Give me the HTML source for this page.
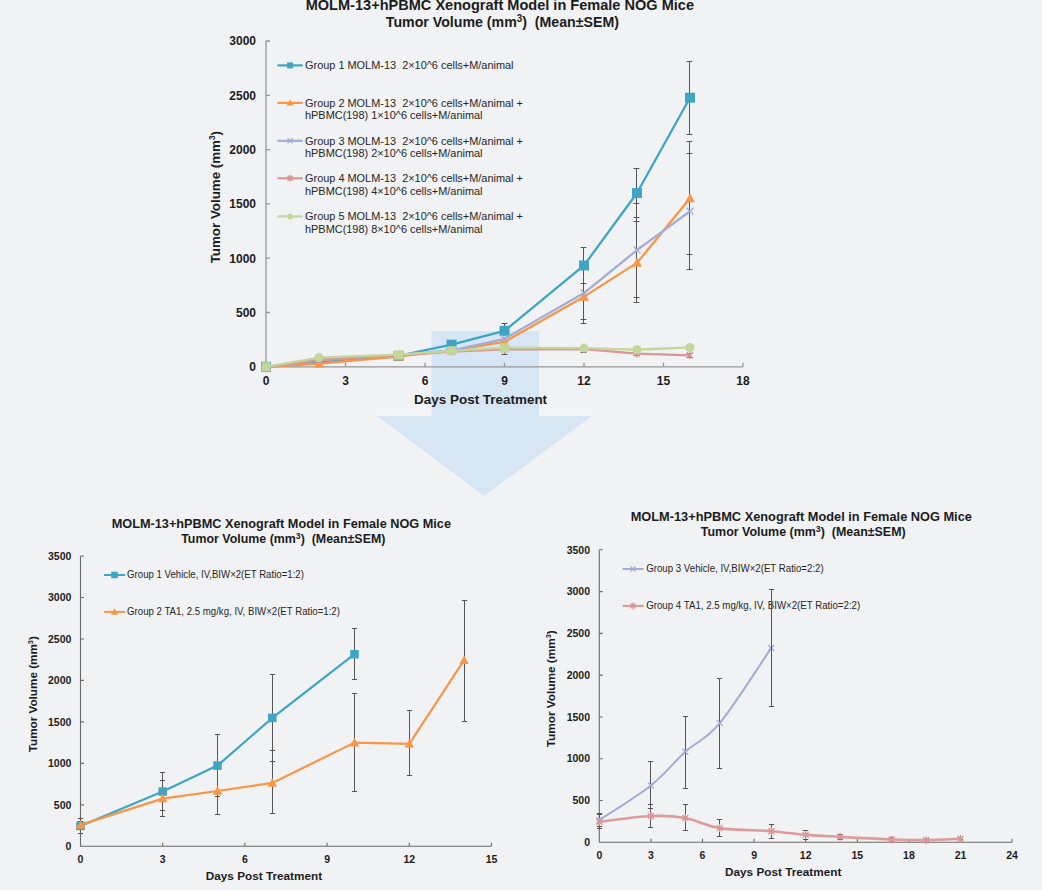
<!DOCTYPE html>
<html><head><meta charset="utf-8"><title>MOLM-13+hPBMC Xenograft Model</title>
<style>html,body{margin:0;padding:0;background:#f1f2f4;}svg{display:block;}</style>
</head><body>
<svg width="1042" height="890" viewBox="0 0 1042 890" font-family="Liberation Sans, Arial, sans-serif" xml:space="preserve" style="white-space:pre">
<rect width="1042" height="890" fill="#f1f2f4"/>
<rect x="376" y="408.5" width="216" height="7.5" fill="#f4f5f7"/>
<path d="M431.5,331H539V416H591.8L484.4,496L377,416H431.5Z" fill="#d6e6f4"/>
<path d="M266,41V366.8H743M266,312.5H270M266,258.2H270M266,203.9H270M266,149.6H270M266,95.3H270M266,41H270M345.5,366.8V362.8M425,366.8V362.8M504.5,366.8V362.8M584,366.8V362.8M663.5,366.8V362.8M743,366.8V362.8" stroke="#979797" stroke-width="1.3" fill="none"/>
<text x="256" y="371.1" font-size="12" font-weight="bold" text-anchor="end" fill="#1c1c1c">0</text>
<text x="256" y="316.8" font-size="12" font-weight="bold" text-anchor="end" fill="#1c1c1c">500</text>
<text x="256" y="262.5" font-size="12" font-weight="bold" text-anchor="end" fill="#1c1c1c">1000</text>
<text x="256" y="208.2" font-size="12" font-weight="bold" text-anchor="end" fill="#1c1c1c">1500</text>
<text x="256" y="153.9" font-size="12" font-weight="bold" text-anchor="end" fill="#1c1c1c">2000</text>
<text x="256" y="99.6" font-size="12" font-weight="bold" text-anchor="end" fill="#1c1c1c">2500</text>
<text x="256" y="45.3" font-size="12" font-weight="bold" text-anchor="end" fill="#1c1c1c">3000</text>
<text x="266" y="385.2" font-size="12" font-weight="bold" text-anchor="middle" fill="#1c1c1c">0</text>
<text x="345.5" y="385.2" font-size="12" font-weight="bold" text-anchor="middle" fill="#1c1c1c">3</text>
<text x="425" y="385.2" font-size="12" font-weight="bold" text-anchor="middle" fill="#1c1c1c">6</text>
<text x="504.5" y="385.2" font-size="12" font-weight="bold" text-anchor="middle" fill="#1c1c1c">9</text>
<text x="584" y="385.2" font-size="12" font-weight="bold" text-anchor="middle" fill="#1c1c1c">12</text>
<text x="663.5" y="385.2" font-size="12" font-weight="bold" text-anchor="middle" fill="#1c1c1c">15</text>
<text x="743" y="385.2" font-size="12" font-weight="bold" text-anchor="middle" fill="#1c1c1c">18</text>
<text x="414.1" y="404.1" font-size="13.4" font-weight="bold" fill="#1c1c1c" textLength="133" lengthAdjust="spacingAndGlyphs">Days Post Treatment</text>
<text transform="translate(220,263.3) rotate(-90)" x="0" y="0" font-size="13.2" font-weight="bold" fill="#1c1c1c" textLength="132.3" lengthAdjust="spacingAndGlyphs">Tumor Volume (mm<tspan font-size="8.18" dy="-4.75">3</tspan><tspan dy="4.75">)</tspan></text>
<text x="305.7" y="9.7" font-size="14.5" font-weight="bold" fill="#1c1c1c" textLength="388.3" lengthAdjust="spacingAndGlyphs">MOLM-13+hPBMC Xenograft Model in Female NOG Mice</text>
<text x="385.8" y="27.2" font-size="14.5" font-weight="bold" fill="#1c1c1c" textLength="233.2" lengthAdjust="spacingAndGlyphs">Tumor Volume (mm<tspan font-size="10.15" dy="-4.93">3</tspan><tspan dy="4.93">) &#160;(Mean±SEM)</tspan></text>
<path d="M504.5,323.5V334.5M501.6,323.5H507.4M501.6,334.5H507.4" stroke="#555555" stroke-width="1" fill="none"/>
<path d="M583.5,247.5V283.5M580.6,247.5H586.4M580.6,283.5H586.4" stroke="#555555" stroke-width="1" fill="none"/>
<path d="M636.5,168.5V217.5M633.6,168.5H639.4M633.6,217.5H639.4" stroke="#555555" stroke-width="1" fill="none"/>
<path d="M689.5,61.5V134.5M686.6,61.5H692.4M686.6,134.5H692.4" stroke="#555555" stroke-width="1" fill="none"/>
<path d="M583.5,269.5V323.5M580.6,269.5H586.4M580.6,323.5H586.4" stroke="#555555" stroke-width="1" fill="none"/>
<path d="M636.5,221.5V302.5M633.6,221.5H639.4M633.6,302.5H639.4" stroke="#555555" stroke-width="1" fill="none"/>
<path d="M689.5,141.5V254.5M686.6,141.5H692.4M686.6,254.5H692.4" stroke="#555555" stroke-width="1" fill="none"/>
<path d="M583.5,266.5V319.5M580.6,266.5H586.4M580.6,319.5H586.4" stroke="#555555" stroke-width="1" fill="none"/>
<path d="M636.5,203.5V297.5M633.6,203.5H639.4M633.6,297.5H639.4" stroke="#555555" stroke-width="1" fill="none"/>
<path d="M689.5,153.5V269.5M686.6,153.5H692.4M686.6,269.5H692.4" stroke="#555555" stroke-width="1" fill="none"/>
<path d="M504.5,346.5V354.5M501.6,346.5H507.4M501.6,354.5H507.4" stroke="#555555" stroke-width="1" fill="none"/>
<path d="M583.5,346.5V352.5M580.6,346.5H586.4M580.6,352.5H586.4" stroke="#555555" stroke-width="1" fill="none"/>
<path d="M636.5,351.5V355.5M633.6,351.5H639.4M633.6,355.5H639.4" stroke="#555555" stroke-width="1" fill="none"/>
<path d="M689.5,353.5V357.5M686.6,353.5H692.4M686.6,357.5H692.4" stroke="#555555" stroke-width="1" fill="none"/>
<path d="M504.5,345.5V351.5M501.6,345.5H507.4M501.6,351.5H507.4" stroke="#555555" stroke-width="1" fill="none"/>
<path d="M583.5,346.5V350.5M580.6,346.5H586.4M580.6,350.5H586.4" stroke="#555555" stroke-width="1" fill="none"/>
<path d="M636.5,347.5V351.5M633.6,347.5H639.4M633.6,351.5H639.4" stroke="#555555" stroke-width="1" fill="none"/>
<path d="M689.5,345.5V349.5M686.6,345.5H692.4M686.6,349.5H692.4" stroke="#555555" stroke-width="1" fill="none"/>
<path d="M266,366.8L398.5,355.94L451.5,344.65L504.5,330.85L584,265.48L637,193.04L690,97.69" stroke="#3ea5c3" stroke-width="2.3" fill="none" stroke-linejoin="round" stroke-linecap="round"/>
<rect x="261" y="361.8" width="10" height="10" fill="#3ea5c3"/>
<rect x="393.5" y="350.94" width="10" height="10" fill="#3ea5c3"/>
<rect x="446.5" y="339.65" width="10" height="10" fill="#3ea5c3"/>
<rect x="499.5" y="325.85" width="10" height="10" fill="#3ea5c3"/>
<rect x="579" y="260.48" width="10" height="10" fill="#3ea5c3"/>
<rect x="632" y="188.04" width="10" height="10" fill="#3ea5c3"/>
<rect x="685" y="92.69" width="10" height="10" fill="#3ea5c3"/>
<path d="M266,366.8L319,363.54L398.5,356.48L451.5,350.51L504.5,341.93L584,296.64L637,262.87L690,198.25" stroke="#f79646" stroke-width="2.3" fill="none" stroke-linejoin="round" stroke-linecap="round"/>
<path d="M266,361.8L271,370.8L261,370.8Z" fill="#f79646"/>
<path d="M319,358.54L324,367.54L314,367.54Z" fill="#f79646"/>
<path d="M398.5,351.48L403.5,360.48L393.5,360.48Z" fill="#f79646"/>
<path d="M451.5,345.51L456.5,354.51L446.5,354.51Z" fill="#f79646"/>
<path d="M504.5,336.93L509.5,345.93L499.5,345.93Z" fill="#f79646"/>
<path d="M584,291.64L589,300.64L579,300.64Z" fill="#f79646"/>
<path d="M637,257.87L642,266.87L632,266.87Z" fill="#f79646"/>
<path d="M690,193.25L695,202.25L685,202.25Z" fill="#f79646"/>
<path d="M266,366.8L319,360.28L398.5,354.85L451.5,350.51L504.5,338.78L584,293.06L637,250.06L690,211.28" stroke="#a3acd6" stroke-width="2.3" fill="none" stroke-linejoin="round" stroke-linecap="round"/>
<path d="M262.5,363.3L269.5,370.3M269.5,363.3L262.5,370.3" stroke="#a3acd6" stroke-width="1.3" fill="none"/>
<path d="M315.5,356.78L322.5,363.78M322.5,356.78L315.5,363.78" stroke="#a3acd6" stroke-width="1.3" fill="none"/>
<path d="M395,351.35L402,358.35M402,351.35L395,358.35" stroke="#a3acd6" stroke-width="1.3" fill="none"/>
<path d="M448,347.01L455,354.01M455,347.01L448,354.01" stroke="#a3acd6" stroke-width="1.3" fill="none"/>
<path d="M501,335.28L508,342.28M508,335.28L501,342.28" stroke="#a3acd6" stroke-width="1.3" fill="none"/>
<path d="M580.5,289.56L587.5,296.56M587.5,289.56L580.5,296.56" stroke="#a3acd6" stroke-width="1.3" fill="none"/>
<path d="M633.5,246.56L640.5,253.56M640.5,246.56L633.5,253.56" stroke="#a3acd6" stroke-width="1.3" fill="none"/>
<path d="M686.5,207.78L693.5,214.78M693.5,207.78L686.5,214.78" stroke="#a3acd6" stroke-width="1.3" fill="none"/>
<path d="M266,366.8L319,359.74L398.5,355.4L451.5,351.6L504.5,349.42L584,349.1L637,353.66L690,355.29" stroke="#d99694" stroke-width="2.3" fill="none" stroke-linejoin="round" stroke-linecap="round"/>
<path d="M263,363.8L269,369.8M269,363.8L263,369.8M266,362.8L266,370.8" stroke="#d99694" stroke-width="1.3" fill="none"/>
<path d="M316,356.74L322,362.74M322,356.74L316,362.74M319,355.74L319,363.74" stroke="#d99694" stroke-width="1.3" fill="none"/>
<path d="M395.5,352.4L401.5,358.4M401.5,352.4L395.5,358.4M398.5,351.4L398.5,359.4" stroke="#d99694" stroke-width="1.3" fill="none"/>
<path d="M448.5,348.6L454.5,354.6M454.5,348.6L448.5,354.6M451.5,347.6L451.5,355.6" stroke="#d99694" stroke-width="1.3" fill="none"/>
<path d="M501.5,346.42L507.5,352.42M507.5,346.42L501.5,352.42M504.5,345.42L504.5,353.42" stroke="#d99694" stroke-width="1.3" fill="none"/>
<path d="M581,346.1L587,352.1M587,346.1L581,352.1M584,345.1L584,353.1" stroke="#d99694" stroke-width="1.3" fill="none"/>
<path d="M634,350.66L640,356.66M640,350.66L634,356.66M637,349.66L637,357.66" stroke="#d99694" stroke-width="1.3" fill="none"/>
<path d="M687,352.29L693,358.29M693,352.29L687,358.29M690,351.29L690,359.29" stroke="#d99694" stroke-width="1.3" fill="none"/>
<path d="M266,366.8L319,357.57L398.5,354.64L451.5,350.84L504.5,347.69L584,348.12L637,349.75L690,347.47" stroke="#c3d69b" stroke-width="2.3" fill="none" stroke-linejoin="round" stroke-linecap="round"/>
<rect x="261.5" y="362.3" width="9" height="9" rx="1.2" fill="#c3d69b"/>
<circle cx="319" cy="357.57" r="4.5" fill="#c3d69b"/>
<rect x="394" y="350.14" width="9" height="9" rx="1.2" fill="#c3d69b"/>
<rect x="447" y="346.34" width="9" height="9" rx="1.2" fill="#c3d69b"/>
<rect x="500" y="343.19" width="9" height="9" rx="1.2" fill="#c3d69b"/>
<circle cx="584" cy="348.12" r="4.5" fill="#c3d69b"/>
<circle cx="637" cy="349.75" r="4.5" fill="#c3d69b"/>
<circle cx="690" cy="347.47" r="4.5" fill="#c3d69b"/>
<path d="M277.5,65.4H302.7" stroke="#3ea5c3" stroke-width="2.2"/>
<rect x="287.1" y="62.4" width="6" height="6" fill="#3ea5c3"/>
<text x="305" y="69.2" font-size="11.5" fill="#262626" textLength="208.51" lengthAdjust="spacingAndGlyphs">Group 1 MOLM-13 &#160;2×10^6 cells+M/animal</text>
<path d="M277.5,102.9H302.7" stroke="#f79646" stroke-width="2.2"/>
<path d="M290.1,99.4L293.6,105.4L286.6,105.4Z" fill="#f79646"/>
<text x="305" y="106.7" font-size="11.5" fill="#262626" textLength="217.92" lengthAdjust="spacingAndGlyphs">Group 2 MOLM-13 &#160;2×10^6 cells+M/animal +</text>
<text x="305" y="119.1" font-size="11.5" fill="#262626" textLength="177.55" lengthAdjust="spacingAndGlyphs">hPBMC(198) 1×10^6 cells+M/animal</text>
<path d="M277.5,140.8H302.7" stroke="#a3acd6" stroke-width="2.2"/>
<path d="M287.6,138.3L292.6,143.3M292.6,138.3L287.6,143.3" stroke="#a3acd6" stroke-width="1.3" fill="none"/>
<text x="305" y="144.6" font-size="11.5" fill="#262626" textLength="217.92" lengthAdjust="spacingAndGlyphs">Group 3 MOLM-13 &#160;2×10^6 cells+M/animal +</text>
<text x="305" y="157" font-size="11.5" fill="#262626" textLength="177.55" lengthAdjust="spacingAndGlyphs">hPBMC(198) 2×10^6 cells+M/animal</text>
<path d="M277.5,178.3H302.7" stroke="#d99694" stroke-width="2.2"/>
<path d="M287.6,175.8L292.6,180.8M292.6,175.8L287.6,180.8M290.1,174.8L290.1,181.8" stroke="#d99694" stroke-width="1.3" fill="none"/>
<text x="305" y="182.1" font-size="11.5" fill="#262626" textLength="217.92" lengthAdjust="spacingAndGlyphs">Group 4 MOLM-13 &#160;2×10^6 cells+M/animal +</text>
<text x="305" y="194.5" font-size="11.5" fill="#262626" textLength="177.55" lengthAdjust="spacingAndGlyphs">hPBMC(198) 4×10^6 cells+M/animal</text>
<path d="M277.5,216.4H302.7" stroke="#c3d69b" stroke-width="2.2"/>
<circle cx="290.1" cy="216.4" r="3" fill="#c3d69b"/>
<text x="305" y="220.2" font-size="11.5" fill="#262626" textLength="217.92" lengthAdjust="spacingAndGlyphs">Group 5 MOLM-13 &#160;2×10^6 cells+M/animal +</text>
<text x="305" y="232.6" font-size="11.5" fill="#262626" textLength="177.55" lengthAdjust="spacingAndGlyphs">hPBMC(198) 8×10^6 cells+M/animal</text>
<path d="M80.5,556.01V846.3H491.5M80.5,804.83H84M80.5,763.36H84M80.5,721.89H84M80.5,680.42H84M80.5,638.95H84M80.5,597.48H84M80.5,556.01H84M162.7,846.3V842.8M244.9,846.3V842.8M327.1,846.3V842.8M409.3,846.3V842.8M491.5,846.3V842.8" stroke="#6a6a6a" stroke-width="1.1" fill="none"/>
<text x="71.4" y="850.05" font-size="10.5" font-weight="bold" text-anchor="end" fill="#1c1c1c">0</text>
<text x="71.4" y="808.58" font-size="10.5" font-weight="bold" text-anchor="end" fill="#1c1c1c">500</text>
<text x="71.4" y="767.11" font-size="10.5" font-weight="bold" text-anchor="end" fill="#1c1c1c">1000</text>
<text x="71.4" y="725.64" font-size="10.5" font-weight="bold" text-anchor="end" fill="#1c1c1c">1500</text>
<text x="71.4" y="684.17" font-size="10.5" font-weight="bold" text-anchor="end" fill="#1c1c1c">2000</text>
<text x="71.4" y="642.7" font-size="10.5" font-weight="bold" text-anchor="end" fill="#1c1c1c">2500</text>
<text x="71.4" y="601.23" font-size="10.5" font-weight="bold" text-anchor="end" fill="#1c1c1c">3000</text>
<text x="71.4" y="559.76" font-size="10.5" font-weight="bold" text-anchor="end" fill="#1c1c1c">3500</text>
<text x="80.5" y="862.7" font-size="10.5" font-weight="bold" text-anchor="middle" fill="#1c1c1c">0</text>
<text x="162.7" y="862.7" font-size="10.5" font-weight="bold" text-anchor="middle" fill="#1c1c1c">3</text>
<text x="244.9" y="862.7" font-size="10.5" font-weight="bold" text-anchor="middle" fill="#1c1c1c">6</text>
<text x="327.1" y="862.7" font-size="10.5" font-weight="bold" text-anchor="middle" fill="#1c1c1c">9</text>
<text x="409.3" y="862.7" font-size="10.5" font-weight="bold" text-anchor="middle" fill="#1c1c1c">12</text>
<text x="491.5" y="862.7" font-size="10.5" font-weight="bold" text-anchor="middle" fill="#1c1c1c">15</text>
<text x="205.8" y="879.8" font-size="11.8" font-weight="bold" fill="#1c1c1c" textLength="116.3" lengthAdjust="spacingAndGlyphs">Days Post Treatment</text>
<text transform="translate(37.3,752.3) rotate(-90)" x="0" y="0" font-size="11" font-weight="bold" fill="#1c1c1c" textLength="116.1" lengthAdjust="spacingAndGlyphs">Tumor Volume (mm<tspan font-size="6.82" dy="-3.96">3</tspan><tspan dy="3.96">)</tspan></text>
<text x="111.7" y="528.1" font-size="12.2" font-weight="bold" fill="#1c1c1c" textLength="339.3" lengthAdjust="spacingAndGlyphs">MOLM-13+hPBMC Xenograft Model in Female NOG Mice</text>
<text x="181.2" y="542.8" font-size="12.2" font-weight="bold" fill="#1c1c1c" textLength="204.2" lengthAdjust="spacingAndGlyphs">Tumor Volume (mm<tspan font-size="8.54" dy="-4.15">3</tspan><tspan dy="4.15">) &#160;(Mean±SEM)</tspan></text>
<path d="M80.5,818.5V833.5M77.9,818.5H83.1M77.9,833.5H83.1" stroke="#555555" stroke-width="1" fill="none"/>
<path d="M162.5,772.5V810.5M159.9,772.5H165.1M159.9,810.5H165.1" stroke="#555555" stroke-width="1" fill="none"/>
<path d="M217.5,734.5V796.5M214.9,734.5H220.1M214.9,796.5H220.1" stroke="#555555" stroke-width="1" fill="none"/>
<path d="M272.5,674.5V761.5M269.9,674.5H275.1M269.9,761.5H275.1" stroke="#555555" stroke-width="1" fill="none"/>
<path d="M354.5,628.5V679.5M351.9,628.5H357.1M351.9,679.5H357.1" stroke="#555555" stroke-width="1" fill="none"/>
<path d="M80.5,821.5V828.5M77.9,821.5H83.1M77.9,828.5H83.1" stroke="#555555" stroke-width="1" fill="none"/>
<path d="M162.5,780.5V816.5M159.9,780.5H165.1M159.9,816.5H165.1" stroke="#555555" stroke-width="1" fill="none"/>
<path d="M217.5,767.5V814.5M214.9,767.5H220.1M214.9,814.5H220.1" stroke="#555555" stroke-width="1" fill="none"/>
<path d="M272.5,750.5V813.5M269.9,750.5H275.1M269.9,813.5H275.1" stroke="#555555" stroke-width="1" fill="none"/>
<path d="M354.5,693.5V791.5M351.9,693.5H357.1M351.9,791.5H357.1" stroke="#555555" stroke-width="1" fill="none"/>
<path d="M409.5,710.5V775.5M406.9,710.5H412.1M406.9,775.5H412.1" stroke="#555555" stroke-width="1" fill="none"/>
<path d="M464.5,600.5V721.5M461.9,600.5H467.1M461.9,721.5H467.1" stroke="#555555" stroke-width="1" fill="none"/>
<path d="M80.5,825.9L162.7,791.56L217.5,765.6L272.3,717.91L354.5,654.21" stroke="#3ea5c3" stroke-width="2.2" fill="none" stroke-linejoin="round" stroke-linecap="round"/>
<rect x="76.25" y="821.65" width="8.5" height="8.5" fill="#3ea5c3"/>
<rect x="158.45" y="787.31" width="8.5" height="8.5" fill="#3ea5c3"/>
<rect x="213.25" y="761.35" width="8.5" height="8.5" fill="#3ea5c3"/>
<rect x="268.05" y="713.66" width="8.5" height="8.5" fill="#3ea5c3"/>
<rect x="350.25" y="649.96" width="8.5" height="8.5" fill="#3ea5c3"/>
<path d="M80.5,824.9L162.7,798.61L217.5,790.98L272.3,782.93L354.5,742.62L409.3,743.87L464.1,660.18" stroke="#f79646" stroke-width="2.2" fill="none" stroke-linejoin="round" stroke-linecap="round"/>
<path d="M80.5,820.15L85.25,828.65L75.75,828.65Z" fill="#f79646"/>
<path d="M162.7,793.86L167.45,802.36L157.95,802.36Z" fill="#f79646"/>
<path d="M217.5,786.23L222.25,794.73L212.75,794.73Z" fill="#f79646"/>
<path d="M272.3,778.18L277.05,786.68L267.55,786.68Z" fill="#f79646"/>
<path d="M354.5,737.88L359.25,746.38L349.75,746.38Z" fill="#f79646"/>
<path d="M409.3,739.12L414.05,747.62L404.55,747.62Z" fill="#f79646"/>
<path d="M464.1,655.43L468.85,663.93L459.35,663.93Z" fill="#f79646"/>
<path d="M104,575H125" stroke="#3ea5c3" stroke-width="2"/>
<rect x="111.25" y="571.75" width="6.5" height="6.5" fill="#3ea5c3"/>
<path d="M104,611.9H125" stroke="#f79646" stroke-width="2"/>
<path d="M114.5,608.15L118.25,614.65L110.75,614.65Z" fill="#f79646"/>
<text x="127.1" y="578.4" font-size="10.3" fill="#262626" textLength="176.8" lengthAdjust="spacingAndGlyphs">Group 1 Vehicle, IV,BIW×2(ET Ratio=1:2)</text>
<text x="127.1" y="615.3" font-size="10.3" fill="#262626" textLength="212.8" lengthAdjust="spacingAndGlyphs">Group 2 TA1, 2.5 mg/kg, IV, BIW×2(ET Ratio=1:2)</text>
<path d="M599.3,549.8V842.3H1012.1M599.3,800.51H602.8M599.3,758.73H602.8M599.3,716.94H602.8M599.3,675.16H602.8M599.3,633.38H602.8M599.3,591.59H602.8M599.3,549.8H602.8M650.9,842.3V838.8M702.5,842.3V838.8M754.1,842.3V838.8M805.7,842.3V838.8M857.3,842.3V838.8M908.9,842.3V838.8M960.5,842.3V838.8M1012.1,842.3V838.8" stroke="#6a6a6a" stroke-width="1.1" fill="none"/>
<text x="590" y="846.05" font-size="10.5" font-weight="bold" text-anchor="end" fill="#1c1c1c">0</text>
<text x="590" y="804.26" font-size="10.5" font-weight="bold" text-anchor="end" fill="#1c1c1c">500</text>
<text x="590" y="762.48" font-size="10.5" font-weight="bold" text-anchor="end" fill="#1c1c1c">1000</text>
<text x="590" y="720.69" font-size="10.5" font-weight="bold" text-anchor="end" fill="#1c1c1c">1500</text>
<text x="590" y="678.91" font-size="10.5" font-weight="bold" text-anchor="end" fill="#1c1c1c">2000</text>
<text x="590" y="637.12" font-size="10.5" font-weight="bold" text-anchor="end" fill="#1c1c1c">2500</text>
<text x="590" y="595.34" font-size="10.5" font-weight="bold" text-anchor="end" fill="#1c1c1c">3000</text>
<text x="590" y="553.55" font-size="10.5" font-weight="bold" text-anchor="end" fill="#1c1c1c">3500</text>
<text x="599.3" y="858.7" font-size="10.5" font-weight="bold" text-anchor="middle" fill="#1c1c1c">0</text>
<text x="650.9" y="858.7" font-size="10.5" font-weight="bold" text-anchor="middle" fill="#1c1c1c">3</text>
<text x="702.5" y="858.7" font-size="10.5" font-weight="bold" text-anchor="middle" fill="#1c1c1c">6</text>
<text x="754.1" y="858.7" font-size="10.5" font-weight="bold" text-anchor="middle" fill="#1c1c1c">9</text>
<text x="805.7" y="858.7" font-size="10.5" font-weight="bold" text-anchor="middle" fill="#1c1c1c">12</text>
<text x="857.3" y="858.7" font-size="10.5" font-weight="bold" text-anchor="middle" fill="#1c1c1c">15</text>
<text x="908.9" y="858.7" font-size="10.5" font-weight="bold" text-anchor="middle" fill="#1c1c1c">18</text>
<text x="960.5" y="858.7" font-size="10.5" font-weight="bold" text-anchor="middle" fill="#1c1c1c">21</text>
<text x="1012.1" y="858.7" font-size="10.5" font-weight="bold" text-anchor="middle" fill="#1c1c1c">24</text>
<text x="725" y="875.8" font-size="11.8" font-weight="bold" fill="#1c1c1c" textLength="116.4" lengthAdjust="spacingAndGlyphs">Days Post Treatment</text>
<text transform="translate(555,747.3) rotate(-90)" x="0" y="0" font-size="11" font-weight="bold" fill="#1c1c1c" textLength="117" lengthAdjust="spacingAndGlyphs">Tumor Volume (mm<tspan font-size="6.82" dy="-3.96">3</tspan><tspan dy="3.96">)</tspan></text>
<text x="630.7" y="521.4" font-size="12.2" font-weight="bold" fill="#1c1c1c" textLength="341.2" lengthAdjust="spacingAndGlyphs">MOLM-13+hPBMC Xenograft Model in Female NOG Mice</text>
<text x="700.8" y="536.4" font-size="12.2" font-weight="bold" fill="#1c1c1c" textLength="204.9" lengthAdjust="spacingAndGlyphs">Tumor Volume (mm<tspan font-size="8.54" dy="-4.15">3</tspan><tspan dy="4.15">) &#160;(Mean±SEM)</tspan></text>
<path d="M599.5,813.5V826.5M596.9,813.5H602.1M596.9,826.5H602.1" stroke="#555555" stroke-width="1" fill="none"/>
<path d="M650.5,761.5V808.5M647.9,761.5H653.1M647.9,808.5H653.1" stroke="#555555" stroke-width="1" fill="none"/>
<path d="M685.5,716.5V788.5M682.9,716.5H688.1M682.9,788.5H688.1" stroke="#555555" stroke-width="1" fill="none"/>
<path d="M719.5,678.5V768.5M716.9,678.5H722.1M716.9,768.5H722.1" stroke="#555555" stroke-width="1" fill="none"/>
<path d="M599.5,814.5V828.5M596.9,814.5H602.1M596.9,828.5H602.1" stroke="#555555" stroke-width="1" fill="none"/>
<path d="M650.5,804.5V827.5M647.9,804.5H653.1M647.9,827.5H653.1" stroke="#555555" stroke-width="1" fill="none"/>
<path d="M685.5,804.5V830.5M682.9,804.5H688.1M682.9,830.5H688.1" stroke="#555555" stroke-width="1" fill="none"/>
<path d="M719.5,819.5V836.5M716.9,819.5H722.1M716.9,836.5H722.1" stroke="#555555" stroke-width="1" fill="none"/>
<path d="M771.5,824.5V838.5M768.9,824.5H774.1M768.9,838.5H774.1" stroke="#555555" stroke-width="1" fill="none"/>
<path d="M805.5,830.5V839.5M802.9,830.5H808.1M802.9,839.5H808.1" stroke="#555555" stroke-width="1" fill="none"/>
<path d="M840.5,834.5V839.5M837.9,834.5H843.1M837.9,839.5H843.1" stroke="#555555" stroke-width="1" fill="none"/>
<path d="M891.5,837.5V841.5M888.9,837.5H894.1M888.9,841.5H894.1" stroke="#555555" stroke-width="1" fill="none"/>
<path d="M926.5,838.5V841.5M923.9,838.5H929.1M923.9,841.5H929.1" stroke="#555555" stroke-width="1" fill="none"/>
<path d="M960.5,837.5V839.5M957.9,837.5H963.1M957.9,839.5H963.1" stroke="#555555" stroke-width="1" fill="none"/>
<path d="M599.3,820.15C607.9,814.37 636.57,796.87 650.9,785.47C665.23,774.08 673.83,762.18 685.3,751.79C696.77,741.4 705.37,740.44 719.7,723.13C734.03,705.82 762.7,660.45 771.3,647.92" stroke="#a3acd6" stroke-width="2.0" fill="none" stroke-linejoin="round" stroke-linecap="round"/>
<path d="M596.3,817.15L602.3,823.15M602.3,817.15L596.3,823.15" stroke="#a3acd6" stroke-width="1.3" fill="none"/>
<path d="M647.9,782.47L653.9,788.47M653.9,782.47L647.9,788.47" stroke="#a3acd6" stroke-width="1.3" fill="none"/>
<path d="M682.3,748.79L688.3,754.79M688.3,748.79L682.3,754.79" stroke="#a3acd6" stroke-width="1.3" fill="none"/>
<path d="M716.7,720.13L722.7,726.13M722.7,720.13L716.7,726.13" stroke="#a3acd6" stroke-width="1.3" fill="none"/>
<path d="M768.3,644.92L774.3,650.92M774.3,644.92L768.3,650.92" stroke="#a3acd6" stroke-width="1.3" fill="none"/>
<path d="M599.3,821.74C607.9,820.79 636.57,816.69 650.9,816.06C665.23,815.43 673.83,815.98 685.3,817.98C696.77,819.99 705.37,825.89 719.7,828.09C734.03,830.29 756.97,830.06 771.3,831.19C785.63,832.31 794.23,833.92 805.7,834.86C817.17,835.81 825.77,836.1 840.1,836.87C854.43,837.63 877.37,838.92 891.7,839.46C906.03,840 914.63,840.25 926.1,840.13C937.57,840 954.77,838.94 960.5,838.71" stroke="#dc9c9c" stroke-width="2.6" fill="none" stroke-linejoin="round" stroke-linecap="round"/>
<path d="M596.3,818.74L602.3,824.74M602.3,818.74L596.3,824.74M599.3,817.74L599.3,825.74" stroke="#d99694" stroke-width="1.3" fill="none"/>
<path d="M647.9,813.06L653.9,819.06M653.9,813.06L647.9,819.06M650.9,812.06L650.9,820.06" stroke="#d99694" stroke-width="1.3" fill="none"/>
<path d="M682.3,814.98L688.3,820.98M688.3,814.98L682.3,820.98M685.3,813.98L685.3,821.98" stroke="#d99694" stroke-width="1.3" fill="none"/>
<path d="M716.7,825.09L722.7,831.09M722.7,825.09L716.7,831.09M719.7,824.09L719.7,832.09" stroke="#d99694" stroke-width="1.3" fill="none"/>
<path d="M768.3,828.19L774.3,834.19M774.3,828.19L768.3,834.19M771.3,827.19L771.3,835.19" stroke="#d99694" stroke-width="1.3" fill="none"/>
<path d="M802.7,831.86L808.7,837.86M808.7,831.86L802.7,837.86M805.7,830.86L805.7,838.86" stroke="#d99694" stroke-width="1.3" fill="none"/>
<path d="M837.1,833.87L843.1,839.87M843.1,833.87L837.1,839.87M840.1,832.87L840.1,840.87" stroke="#d99694" stroke-width="1.3" fill="none"/>
<path d="M888.7,836.46L894.7,842.46M894.7,836.46L888.7,842.46M891.7,835.46L891.7,843.46" stroke="#d99694" stroke-width="1.3" fill="none"/>
<path d="M923.1,837.13L929.1,843.13M929.1,837.13L923.1,843.13M926.1,836.13L926.1,844.13" stroke="#d99694" stroke-width="1.3" fill="none"/>
<path d="M957.5,835.71L963.5,841.71M963.5,835.71L957.5,841.71M960.5,834.71L960.5,842.71" stroke="#d99694" stroke-width="1.3" fill="none"/>
<path d="M622.6,569H643.5" stroke="#a3acd6" stroke-width="2"/>
<path d="M630.5,566.5L635.5,571.5M635.5,566.5L630.5,571.5" stroke="#a3acd6" stroke-width="1.3" fill="none"/>
<path d="M622.6,605.9H643.5" stroke="#d99694" stroke-width="2"/>
<path d="M630.5,603.4L635.5,608.4M635.5,603.4L630.5,608.4M633,602.4L633,609.4" stroke="#d99694" stroke-width="1.3" fill="none"/>
<text x="646.2" y="572.4" font-size="10.3" fill="#262626" textLength="177.5" lengthAdjust="spacingAndGlyphs">Group 3 Vehicle, IV,BIW×2(ET Ratio=2:2)</text>
<text x="646.2" y="609.3" font-size="10.3" fill="#262626" textLength="214" lengthAdjust="spacingAndGlyphs">Group 4 TA1, 2.5 mg/kg, IV, BIW×2(ET Ratio=2:2)</text>
<path d="M771.5,589.5V706.5M768.9,589.5H774.1M768.9,706.5H774.1" stroke="#555555" stroke-width="1" fill="none"/>
</svg>
</body></html>
